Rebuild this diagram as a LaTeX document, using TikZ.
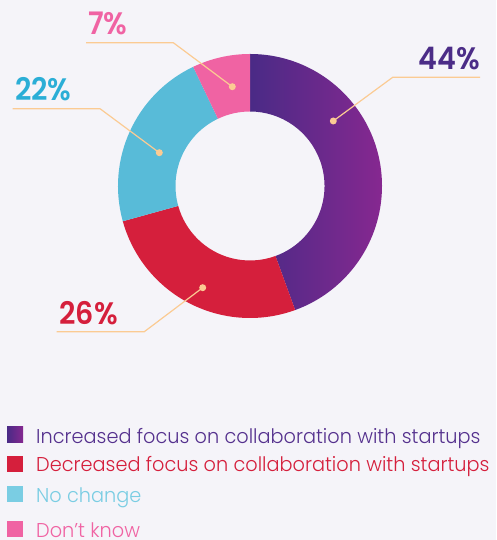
\documentclass[tikz,border=0pt]{standalone}
\usepackage{fontspec}
\usetikzlibrary{calc}
\setmainfont{Poppins}
\newfontfamily\pctfont{Poppins}[UprightFont=* SemiBold]
\newfontfamily\legfont{Poppins}[UprightFont=* Light]
\definecolor{bg}{HTML}{F5F4F9}
\definecolor{purpA}{HTML}{4A2A86}
\definecolor{purpB}{HTML}{862890}
\definecolor{purpT}{HTML}{4B2C87}
\definecolor{purpL}{HTML}{55318E}
\definecolor{redS}{HTML}{D51F3C}
\definecolor{cyanS}{HTML}{58BBD8}
\definecolor{cyanT}{HTML}{2BAED6}
\definecolor{cyanL}{HTML}{7ACDE3}
\definecolor{pinkS}{HTML}{F063A3}
\definecolor{lead}{HTML}{FBCB93}
\newcommand{\pcttxt}[1]{\scalebox{0.92}[1]{#1}}
\newcommand{\legtxt}[1]{\scalebox{0.965}[1]{#1}}
\tikzset{
  dotnode/.style={circle,fill=lead,inner sep=0pt,minimum size=7pt},
  leader/.style={draw=lead,line width=1.2pt},
  pct/.style={font=\pctfont\fontsize{31}{31}\selectfont,inner sep=0pt},
  leg/.style={font=\legfont\fontsize{20}{20}\selectfont,inner sep=0pt,anchor=base west},
  sq/.style={minimum size=16pt,inner sep=0pt,anchor=south west}
}
\begin{document}
\begin{tikzpicture}[x=1pt,y=1pt]
\fill[bg] (0,0) rectangle (496,540);
\useasboundingbox (0,0) rectangle (496,540);
\coordinate (c) at (250,354);
\def\RR{132}\def\rr{74.5}
% segments
\shade[left color=purpA,right color=purpB] ($(c)+(90:\RR)$) arc[start angle=90,end angle=-70,radius=\RR] -- ($(c)+(-70:\rr)$) arc[start angle=-70,end angle=90,radius=\rr] -- cycle;
\fill[redS] ($(c)+(-70:\RR)$) arc[start angle=-70,end angle=-164.5,radius=\RR] -- ($(c)+(-164.5:\rr)$) arc[start angle=-164.5,end angle=-70,radius=\rr] -- cycle;
\fill[cyanS] ($(c)+(-164.5:\RR)$) arc[start angle=-164.5,end angle=-244.5,radius=\RR] -- ($(c)+(-244.5:\rr)$) arc[start angle=-244.5,end angle=-164.5,radius=\rr] -- cycle;
\fill[pinkS] ($(c)+(115.5:\RR)$) arc[start angle=115.5,end angle=90,radius=\RR] -- ($(c)+(90:\rr)$) arc[start angle=90,end angle=115.5,radius=\rr] -- cycle;
% leaders
\node[dotnode] (d44) at (333.3,419) {};
\coordinate (e44) at (392.7,462.7);
\coordinate (f44) at (480,462.7);
\draw[leader] (d44.center) -- (e44) -- (f44);
\node[pct,text=purpT,anchor=base east] (t44) at (480,470) {\pcttxt{44\%}};

\node[dotnode] (d7) at (232.3,453.3) {};
\coordinate (e7) at (173.3,497.3);
\coordinate (f7) at (86,497.3);
\draw[leader] (d7.center) -- (e7) -- (f7);
\node[pct,text=pinkS,anchor=base west] (t7) at (88,505.7) {\pcttxt{7\%}};

\node[dotnode] (d22) at (159.3,387.3) {};
\coordinate (e22) at (100,431.3);
\coordinate (f22) at (12.7,431.3);
\draw[leader] (d22.center) -- (e22) -- (f22);
\node[pct,text=cyanT,anchor=base west] (t22) at (15,439.3) {\pcttxt{22\%}};

\node[dotnode] (d26) at (202.7,252.3) {};
\coordinate (e26) at (144.3,208.3);
\coordinate (f26) at (56.7,208.3);
\draw[leader] (d26.center) -- (e26) -- (f26);
\node[pct,text=redS,anchor=base west] (t26) at (59.3,215) {\pcttxt{26\%}};
% legend
\node[sq,left color=purpA,right color=purpB] (s1) at (7,97.3) {};
\node[sq,fill=redS] (s2) at (7,68) {};
\node[sq,fill=cyanL] (s3) at (7,37.3) {};
\node[sq,fill=pinkS] (s4) at (7,3) {};
\node[leg,text=purpL] (l1) at (36,96.7) {\legtxt{Increased focus on collaboration with startups}};
\node[leg,text=redS] (l2) at (36,68) {\legtxt{Decreased focus on collaboration with startups}};
\node[leg,text=cyanL] (l3) at (36,37.3) {\legtxt{No change}};
\node[leg,text=pinkS] (l4) at (36,2.7) {\legtxt{Don’t know}};
\end{tikzpicture}
\end{document}
